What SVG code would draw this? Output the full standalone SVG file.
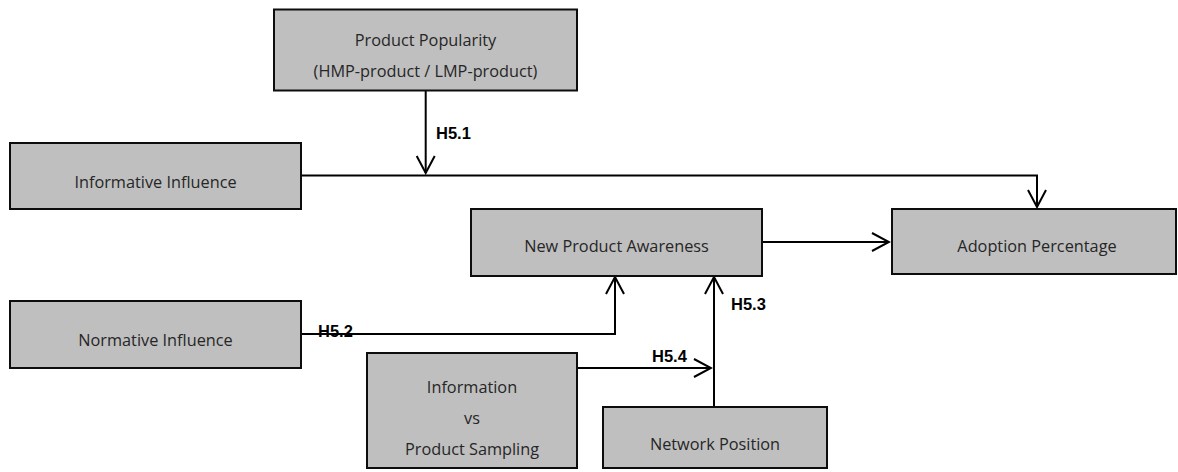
<svg xmlns="http://www.w3.org/2000/svg" width="1178" height="472" viewBox="0 0 1178 472">
<style>
  .box { fill: #bfbfbf; stroke: #0d0d0d; stroke-width: 2; }
  .t { font-family: "Open Sans", "Liberation Sans", sans-serif; font-size: 16.3px; fill: #262626; text-anchor: middle; }
  .lbl { font-family: "Liberation Sans", Arial, sans-serif; font-size: 16.5px; font-weight: bold; fill: #000; }
  .c { fill: none; stroke: #000; stroke-width: 2; }
</style>
<defs>
  <marker id="arr" viewBox="-20 -11 22 22" markerWidth="22" markerHeight="22" refX="0" refY="0" orient="auto" markerUnits="userSpaceOnUse">
    <path d="M-17,-9 L0,0 L-17,9" fill="none" stroke="#000" stroke-width="2"/>
  </marker>
</defs>
<rect width="1178" height="472" fill="#fff"/>

<g id="connectors">
  <path class="c" d="M425.7,91 V173" marker-end="url(#arr)"/>
  <path class="c" d="M301,175.5 H1037 V207" marker-end="url(#arr)"/>
  <path class="c" d="M762,242 H889" marker-end="url(#arr)"/>
  <path class="c" d="M301,334 H615 V277" marker-end="url(#arr)"/>
  <path class="c" d="M714,407 V277" marker-end="url(#arr)"/>
  <path class="c" d="M577,368 H711" marker-end="url(#arr)"/>
</g>

<g id="product-popularity">
  <rect class="box" x="274" y="9.5" width="303" height="81"/>
  <text class="t" x="425.5" y="46">Product Popularity</text>
  <text class="t" x="425.5" y="77">(HMP-product / LMP-product)</text>
</g>
<g id="informative-influence">
  <rect class="box" x="10" y="143" width="291" height="66"/>
  <text class="t" x="155.5" y="188">Informative Influence</text>
</g>
<g id="normative-influence">
  <rect class="box" x="10" y="301" width="291" height="67"/>
  <text class="t" x="155.5" y="346">Normative Influence</text>
</g>
<g id="new-product-awareness">
  <rect class="box" x="471" y="209" width="291" height="67"/>
  <text class="t" x="616.5" y="252">New Product Awareness</text>
</g>
<g id="adoption-percentage">
  <rect class="box" x="892" y="209" width="284" height="65"/>
  <text class="t" x="1037" y="252">Adoption Percentage</text>
</g>
<g id="information-vs-sampling">
  <rect class="box" x="367" y="353" width="210" height="115"/>
  <text class="t" x="472" y="393">Information</text>
  <text class="t" x="472" y="424">vs</text>
  <text class="t" x="472" y="455">Product Sampling</text>
</g>
<g id="network-position">
  <rect class="box" x="603" y="407" width="224" height="61"/>
  <text class="t" x="715" y="450">Network Position</text>
</g>

<g id="labels">
  <text class="lbl" x="436" y="139">H5.1</text>
  <text class="lbl" x="318" y="337">H5.2</text>
  <text class="lbl" x="731" y="310">H5.3</text>
  <text class="lbl" x="652" y="362">H5.4</text>
</g>
</svg>
